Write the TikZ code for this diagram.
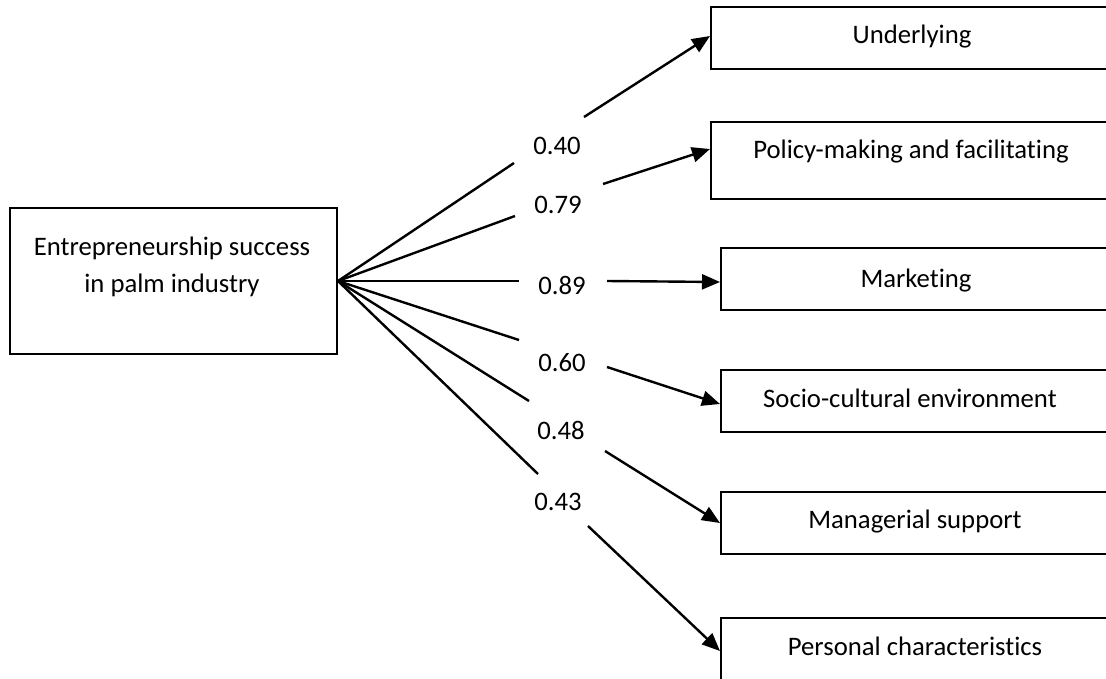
\documentclass[tikz,border=0pt]{standalone}
\usepackage{fontspec}
\setmainfont{Carlito}[Ligatures=NoCommon,RawFeature={-liga;-calt;-clig}]
\usetikzlibrary{arrows.meta}
\begin{document}
\begin{tikzpicture}[x=1pt,y=-1pt,
  box/.style={draw,line width=2pt,rectangle,inner sep=0pt,anchor=north west},
  txt/.style={font=\fontsize{26.7}{32}\selectfont,inner sep=0pt,anchor=base},
  num/.style={font=\fontsize{26.7}{32}\selectfont,inner sep=0pt},
  conn/.style={line width=2.4pt},
  arr/.style={conn,-{Triangle[length=18pt,width=15pt]}}]
\useasboundingbox (0,0) rectangle (1106,678);
\clip (0,0) rectangle (1106,678);
% boxes
\node[box,minimum width=327pt,minimum height=146pt] (src) at (9,207) {};
\node[box,minimum width=405pt,minimum height=62pt] (b1) at (710,6) {};
\node[box,minimum width=405pt,minimum height=77pt] (b2) at (710,121) {};
\node[box,minimum width=395pt,minimum height=62pt] (b3) at (720,247) {};
\node[box,minimum width=395pt,minimum height=62pt] (b4) at (720,369) {};
\node[box,minimum width=395pt,minimum height=62pt] (b5) at (720,491) {};
\node[box,minimum width=395pt,minimum height=100pt] (b6) at (720,617) {};
% texts
\node[txt] (srcA) at (172,255) {Entrepreneurship success};
\node[txt] (srcB) at (172,292) {in palm industry};
\node[txt] (l1) at (912,43) {Underlying};
\node[txt] (l2) at (911,158) {Policy-making and facilitating};
\node[txt] (l3) at (916,287) {Marketing};
\node[txt] (l4) at (910,407) {Socio-cultural environment};
\node[txt] (l5) at (915,528) {Managerial support};
\node[txt] (l6) at (915,655) {Personal characteristics};
% numbers
\node[num] (n1) at (557,146) {0.40};
\node[num] (n2) at (558,205) {0.79};
\node[num] (n3) at (562,285) {0.89};
\node[num] (n4) at (562,363) {0.60};
\node[num] (n5) at (561,430) {0.48};
\node[num] (n6) at (558,502) {0.43};
% segment end/start points around labels
\coordinate (e1) at (514,163); \coordinate (s1) at (584,117);
\coordinate (e2) at (515,216); \coordinate (s2) at (603,184);
\coordinate (e3) at (519,281); \coordinate (s3) at (607,281);
\coordinate (e4) at (519,340); \coordinate (s4) at (607,367);
\coordinate (e5) at (529,401); \coordinate (s5) at (605,451);
\coordinate (e6) at (538,474); \coordinate (s6) at (588,526);
% connectors
\draw[conn] (src.east) -- (e1);
\draw[conn] (src.east) -- (e2);
\draw[conn] (src.east) -- (e3);
\draw[conn] (src.east) -- (e4);
\draw[conn] (src.east) -- (e5);
\draw[conn] (src.east) -- (e6);
\draw[arr] (s1) -- ([yshift=2pt]b1.west);
\draw[arr] (s2) -- ([yshift=11.5pt]b2.west);
\draw[arr] (s3) -- ([yshift=-3pt]b3.west);
\draw[arr] (s4) -- ([yshift=-3pt]b4.west);
\draw[arr] (s5) -- (b5.west);
\draw[arr] (s6) -- ([yshift=17pt]b6.west);
\end{tikzpicture}
\end{document}
